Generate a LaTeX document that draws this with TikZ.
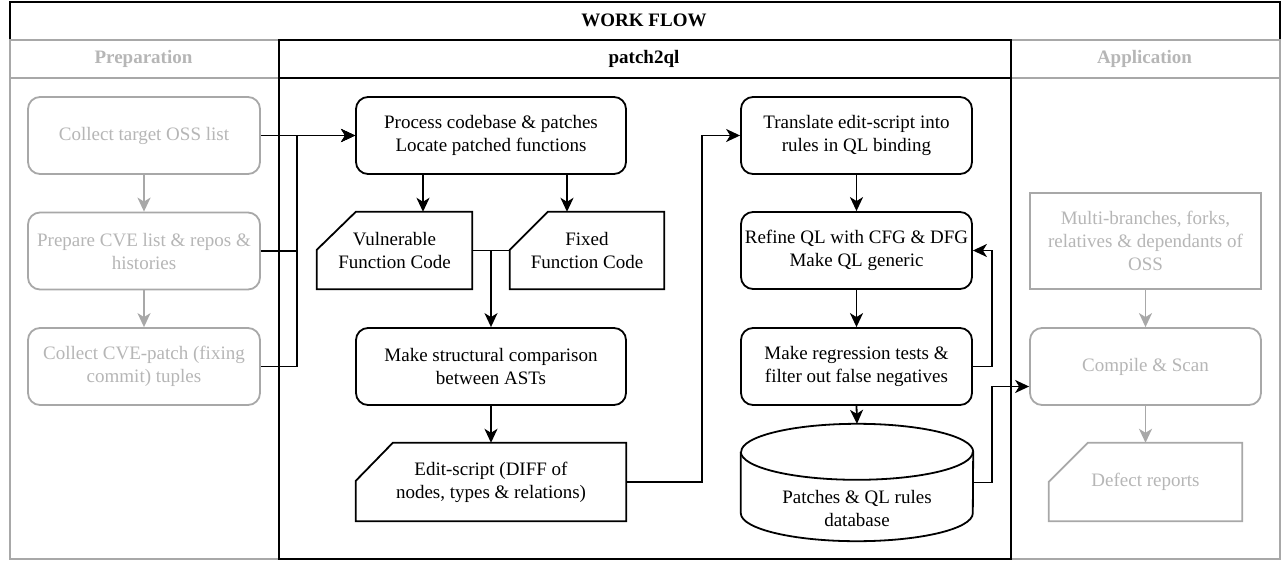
\documentclass[tikz,border=0pt]{standalone}
\usepackage{fontspec}
\setmainfont{Liberation Serif}
\usetikzlibrary{arrows.meta,calc}
\definecolor{lg}{RGB}{168,168,168}
\definecolor{lgt}{RGB}{182,182,182}
\tikzset{
  base/.style={font=\rmfamily\fontsize{19}{23}\selectfont, align=center, inner sep=0pt},
  head/.style={base, font=\rmfamily\fontsize{19}{23}\selectfont\bfseries},
  lane/.style={draw, line width=1.8pt, fill=white, anchor=north west, minimum height=519pt, inner sep=0pt},
  rbox/.style={base, draw, line width=1.8pt, rounded corners=12pt, minimum height=77pt, minimum width=231pt},
  gbox/.style={rbox, draw=lg, text=lgt},
  holder/.style={base, minimum height=78pt},
  cardline/.style={draw, line width=1.8pt, line join=miter},
  flow/.style={draw, line width=1.8pt, -{Stealth[length=14pt,width=13pt,inset=4pt]}},
  gflow/.style={flow, draw=lg, color=lg},
  plain/.style={draw, line width=1.8pt}
}
\begin{document}
\begin{tikzpicture}[x=1pt,y=-1pt]
\useasboundingbox (0,0) rectangle (1283,560);
% outer frame and title
\node[draw, line width=1.8pt, anchor=north west, minimum width=1270pt, minimum height=557pt, inner sep=0pt] (wf) at (9,1) {};
\node[head] (wft) at (644,20) {WORK FLOW};
% lanes
\node[lane, draw=lg, minimum width=269pt] (prepL) at (9,39) {};
\draw[plain, draw=lg] ($(prepL.north west)+(0,39)$) -- ($(prepL.north east)+(0,39)$);
\node[head, text=lgt] (prepH) at (143.5,58.5) {Preparation};
\node[lane, draw=lg, minimum width=269pt] (appL) at (1010,39) {};
\draw[plain, draw=lg] ($(appL.north west)+(0,39)$) -- ($(appL.north east)+(0,39)$);
\node[head, text=lgt] (appH) at (1144.5,58.5) {Application};
\node[lane, draw=black, minimum width=732pt] (pqL) at (278,39) {};
\draw[plain] ($(pqL.north west)+(0,39)$) -- ($(pqL.north east)+(0,39)$);
\node[head] (pqH) at (644,58.5) {patch2ql};
% preparation boxes
\node[gbox, minimum width=232pt] (prep1) at (144,135.5) {Collect target OSS list};
\node[gbox, minimum width=232pt] (prep2) at (144,251) {Prepare CVE list \& repos \&\\histories};
\node[gbox, minimum width=232pt] (prep3) at (144,366.5) {Collect CVE-patch (fixing\\commit) tuples};
% patch2ql left column
\node[rbox, minimum width=270pt] (proc) at (491,135.5) {Process codebase \& patches\\Locate patched functions};
\node[holder, minimum width=155pt, minimum height=77pt] (vuln) at (394.5,250.5) {Vulnerable\\Function Code};
\node[holder, minimum width=154pt, minimum height=77pt] (fixed) at (587,250.5) {Fixed\\Function Code};
\node[rbox, minimum width=270pt] (comp) at (491,366.5) {Make structural comparison\\between ASTs};
\node[holder, minimum width=270pt] (edit) at (491,482) {Edit-script (DIFF of\\nodes, types \& relations)};
% patch2ql right column
\node[rbox] (trans) at (856.5,135.5) {Translate edit-script into\\rules in QL binding};
\node[rbox] (refine) at (856.5,250.5) {Refine QL with CFG \& DFG\\Make QL generic};
\node[rbox] (regr) at (856.5,366.5) {Make regression tests \&\\filter out false negatives};
\node[base, minimum width=232pt, minimum height=117pt] (db) at (857,482.5) {};
\node[base] (dbl) at (857,508.5) {Patches \& QL rules\\database};
% application boxes
\node[base, draw=lg, text=lgt, line width=1.8pt, minimum width=231pt, minimum height=96pt] (multi) at (1145.5,241) {Multi-branches, forks,\\relatives \& dependants of\\OSS};
\node[gbox] (compile) at (1145.5,366.5) {Compile \& Scan};
\node[holder, text=lgt, minimum width=193pt] (defect) at (1145.5,482) {Defect reports};
% card outlines
\draw[cardline] ($(vuln.north west)+(39,0)$) -- (vuln.north east) -- (vuln.south east) -- (vuln.south west) -- ($(vuln.north west)+(0,38)$) -- cycle;
\draw[cardline] ($(fixed.north west)+(38,0)$) -- (fixed.north east) -- (fixed.south east) -- (fixed.south west) -- ($(fixed.north west)+(0,38)$) -- cycle;
\draw[cardline] ($(edit.north west)+(37,0)$) -- (edit.north east) -- (edit.south east) -- (edit.south west) -- ($(edit.north west)+(0,38)$) -- cycle;
\draw[cardline, draw=lg] ($(defect.north west)+(39,0)$) -- (defect.north east) -- (defect.south east) -- (defect.south west) -- ($(defect.north west)+(0,39)$) -- cycle;
% cylinder
\draw[plain] ([yshift=-28pt]db.north west) -- ([yshift=28pt]db.south west)
  arc[start angle=180, end angle=360, x radius=116pt, y radius=28pt]
  -- ([yshift=-28pt]db.north east)
  arc[start angle=0, end angle=180, x radius=116pt, y radius=28pt];
\draw[plain] ([yshift=-28pt]db.north west) arc[start angle=180, end angle=360, x radius=116pt, y radius=28pt];
% gray connectors
\draw[gflow] (prep1.south) -- (prep2.north);
\draw[gflow] (prep2.south) -- (prep3.north);
\draw[gflow] (multi.south) -- (compile.north);
\draw[gflow] (compile.south) -- (defect.north);
% black connectors
\coordinate (bus) at ($(proc.west)+(-58,0)$);
\draw[flow] (prep1.east) -- (proc.west);
\draw[flow] (prep2.east) -| (bus) -- (proc.west);
\draw[flow] (prep3.east) -| (bus) -- (proc.west);
\draw[flow] ([xshift=-68pt]proc.south) -- ([xshift=-68pt]proc.south |- vuln.north);
\draw[flow] ([xshift=76pt]proc.south) -- ([xshift=76pt]proc.south |- fixed.north);
\coordinate (merge) at (comp.north |- vuln.east);
\draw[plain] (vuln.east) -- (merge);
\draw[plain] (fixed.west) -- (merge);
\draw[flow] (merge) -- (comp.north);
\draw[flow] (comp.south) -- (edit.north);
\draw[flow] (edit.east) -- ++(76,0) |- (trans.west);
\draw[flow] (trans.south) -- (refine.north);
\draw[flow] (refine.south) -- (regr.north);
\draw[flow] (regr.south) -- (db.north);
\draw[flow] (regr.east) -- ++(19,0) |- (refine.east);
\draw[flow] (db.east) -- ++(19,0) |- ([yshift=-20pt]compile.west);
\end{tikzpicture}
\end{document}
